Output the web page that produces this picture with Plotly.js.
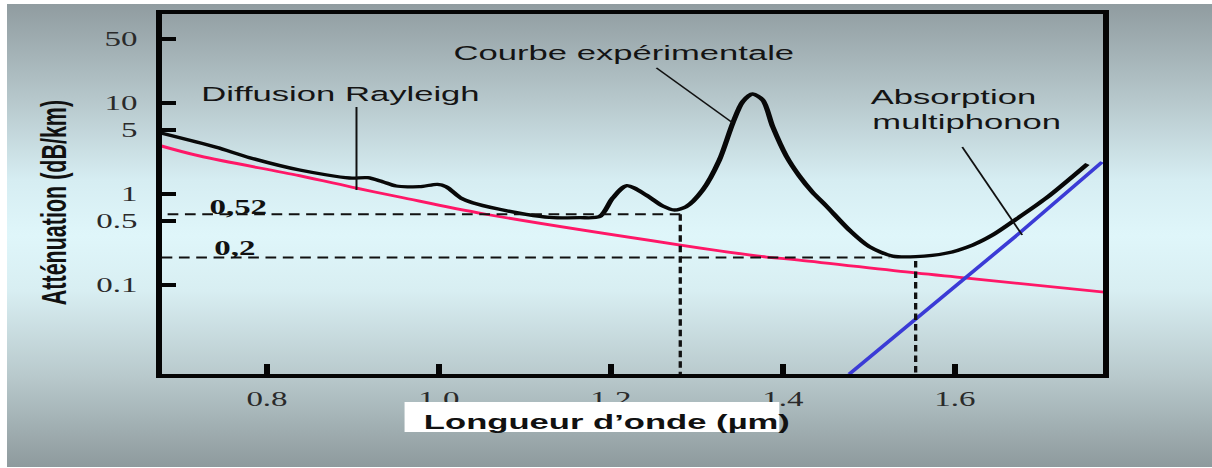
<!DOCTYPE html>
<html>
<head>
<meta charset="utf-8">
<script src="https://cdn.plot.ly/plotly-3.0.1.min.js"></script>
<style>
  html, body { margin: 0; padding: 0; background: #ffffff; width: 1212px; height: 468px; overflow: hidden; }
  #bg { position: absolute; left: 7px; top: 4px; width: 1205px; height: 463px;
        background: linear-gradient(to bottom, #909ca0 0%, #b5c6ca 20%, #d6edf2 38%, #dff6fa 50%, #d8eef2 62%, #b9cacd 80%, #8e9a9d 100%); }
  #chart { position: absolute; left: 0; top: 0; width: 735px; height: 468px;
           transform: scaleX(1.64898); transform-origin: 0 0; }
</style>
</head>
<body>
<div id="bg"></div>
<div id="chart"></div>
<script>
// ---- data ----
const wavelengthExp = [0.6751, 0.7410, 0.7798, 0.8379, 0.8960, 0.9170, 0.9344, 0.9503, 0.9774, 0.9983,
  1.0084, 1.0259, 1.0390, 1.0704, 1.1014, 1.1285, 1.1634, 1.1866, 1.2021, 1.2186,
  1.2409, 1.2603, 1.2739, 1.2875, 1.3068, 1.3262, 1.3417, 1.3533, 1.3649, 1.3766,
  1.3882, 1.4040, 1.4192, 1.4343, 1.4506, 1.4773, 1.5006, 1.5277, 1.5548,
  1.5897, 1.6207, 1.6439, 1.6671, 1.7060, 1.7543];
const attenuationExp = [4.72, 3.26, 2.51, 1.835, 1.499, 1.51, 1.365, 1.224, 1.203, 1.278,
  1.203, 0.897, 0.802, 0.679, 0.598, 0.554, 0.549, 0.563, 0.904, 1.237,
  0.975, 0.738, 0.667, 0.725, 1.106, 2.364, 5.98, 10.33, 12.56, 10.79,
  5.49, 2.616, 1.577, 1.052, 0.738, 0.402, 0.264, 0.208, 0.205,
  0.223, 0.275, 0.354, 0.496, 0.897, 2.14];

const wavelengthRayleigh = [0.6693, 0.7212, 0.8375, 0.9041, 0.9541, 1.0530, 1.2809, 1.381, 1.419, 1.554, 1.614, 1.783];
const attenuationRayleigh = [3.54, 2.62, 1.59, 1.16, 0.927, 0.603, 0.275, 0.203, 0.188, 0.1355, 0.119, 0.0817];

const wavelengthIR = [1.4773, 1.6749, 1.7714];
const attenuationIR = [0.0105, 0.370, 2.25];

const markLevels = [0.6, 0.2];
const markLabels = ['0,52', '0,2'];
const markWavelengths = [1.2807, 1.5545];

const xTickVals = [0.8, 1.0, 1.2, 1.4, 1.6];
const xTickText = ['0.8', '1.0', '1.2', '1.4', '1.6'];
const yTickVals = [0.1, 0.5, 1, 5, 10, 50];
const yTickText = ['0.1', '0.5', '1', '5', '10', '50'];

// ---- chart ----
const SANS = 'Liberation Sans, Arial, sans-serif';
const SERIF = 'Liberation Serif, Times New Roman, serif';

const traces = [
  { x: wavelengthRayleigh, y: attenuationRayleigh, mode: 'lines', type: 'scatter',
    line: { color: '#ff1767', width: 2.8, shape: 'spline', smoothing: 1 }, hoverinfo: 'skip' },
  { x: wavelengthIR, y: attenuationIR, mode: 'lines', type: 'scatter',
    line: { color: '#3b3bd6', width: 2.8 }, hoverinfo: 'skip' },
  { x: wavelengthExp, y: attenuationExp, mode: 'lines', type: 'scatter',
    line: { color: '#080808', width: 3.3, shape: 'spline', smoothing: 0.8 }, hoverinfo: 'skip' }
];

const dash = { color: '#111111', width: 2, dash: '6.5px,4px' };
const thin = { color: '#111111', width: 1.2 };
const xMin = 0.6774, xMax = 1.7726;

const shapes = [
  // dashed guide lines
  { type: 'line', xref: 'x', yref: 'y', x0: 0.6844, x1: markWavelengths[0], y0: markLevels[0], y1: markLevels[0], line: dash },
  { type: 'line', xref: 'x', yref: 'y', x0: 0.6774, x1: 1.5238, y0: markLevels[1], y1: markLevels[1], line: dash },
  { type: 'line', xref: 'x', yref: 'y', x0: markWavelengths[0], x1: markWavelengths[0], y0: markLevels[0], y1: 0.0105, line: dash },
  { type: 'line', xref: 'x', yref: 'y', x0: markWavelengths[1], x1: markWavelengths[1], y0: 0.1835, y1: 0.0105, line: dash },
  // leader lines
  { type: 'line', xref: 'x', yref: 'y', x0: 0.9041, x1: 0.9041, y0: 9.04, y1: 1.106, line: thin },
  { type: 'line', xref: 'x', yref: 'y', x0: 1.2529, x1: 1.3413, y0: 24.3, y1: 6.07, line: thin },
  { type: 'line', xref: 'x', yref: 'y', x0: 1.6087, x1: 1.6784, y0: 3.28, y1: 0.354, line: thin },
  // white box behind the x title
  { type: 'rect', xref: 'x', yref: 'paper', x0: 0.9600, x1: 1.3959, y0: -0.0778, y1: -0.1611,
    fillcolor: '#ffffff', line: { width: 0 }, layer: 'above' }
];

const annFont = { family: SANS, size: 21, color: '#141414' };
const annotations = [
  { text: 'Diffusion Rayleigh', x: 0.8861, y: 1.099, xref: 'x', yref: 'y', showarrow: false, font: annFont },
  { text: 'Courbe expérimentale', x: 1.2157, y: 1.560, xref: 'x', yref: 'y', showarrow: false, font: annFont },
  { text: 'Absorption', x: 1.4982, y: 1.066, xref: 'x', yref: 'y', xanchor: 'left', showarrow: false, font: annFont },
  { text: 'multiphonon', x: 1.4994, y: 0.802, xref: 'x', yref: 'y', xanchor: 'left', showarrow: false, font: annFont },
  { text: '<b>' + markLabels[0] + '</b>', x: 0.7672, y: Math.log10(markLevels[0]) + 0.079, xref: 'x', yref: 'y', showarrow: false,
    font: { family: SERIF, size: 20, color: '#111111' } },
  { text: '<b>' + markLabels[1] + '</b>', x: 0.7632, y: Math.log10(markLevels[1]) + 0.106, xref: 'x', yref: 'y', showarrow: false,
    font: { family: SERIF, size: 20, color: '#111111' } },
  { text: '<b>Longueur d’onde (µm)</b>', x: 1.1948, y: -0.1325, xref: 'x', yref: 'paper', showarrow: false,
    xanchor: 'center', yanchor: 'middle', font: { family: SANS, size: 21, color: '#111111' } },
  { text: '<b>Atténuation (dB/km)</b>', x: -0.1134, y: 0.475, xref: 'paper', yref: 'paper', showarrow: false, textangle: -90,
    xanchor: 'center', yanchor: 'middle', font: { family: SANS, size: 21.5, color: '#111111' } }
];

const layout = {
  width: 735, height: 468,
  margin: { l: 98.2, r: 65.5, t: 14, b: 94, pad: 0 },
  paper_bgcolor: 'rgba(0,0,0,0)',
  plot_bgcolor: 'rgba(0,0,0,0)',
  showlegend: false,
  xaxis: {
    range: [xMin, xMax], showgrid: false, zeroline: false,
    showline: true, mirror: true, linecolor: '#050505', linewidth: 4,
    ticks: 'inside', ticklen: 10, tickwidth: 3.6, tickcolor: '#050505',
    tickvals: xTickVals, ticktext: xTickText,
    tickfont: { family: SERIF, size: 20, color: '#2a2a2a' }, ticklabelstandoff: 4
  },
  yaxis: {
    type: 'log', range: [-1.978, 1.978], showgrid: false, zeroline: false,
    showline: true, mirror: true, linecolor: '#050505', linewidth: 3.6,
    ticks: 'inside', ticklen: 9, tickwidth: 4, tickcolor: '#050505',
    tickvals: yTickVals, ticktext: yTickText,
    tickfont: { family: SERIF, size: 20, color: '#2a2a2a' }, ticklabelstandoff: 7
  },
  shapes: shapes,
  annotations: annotations
};

Plotly.newPlot('chart', traces, layout, { displayModeBar: false, staticPlot: true });
</script>
</body>
</html>
